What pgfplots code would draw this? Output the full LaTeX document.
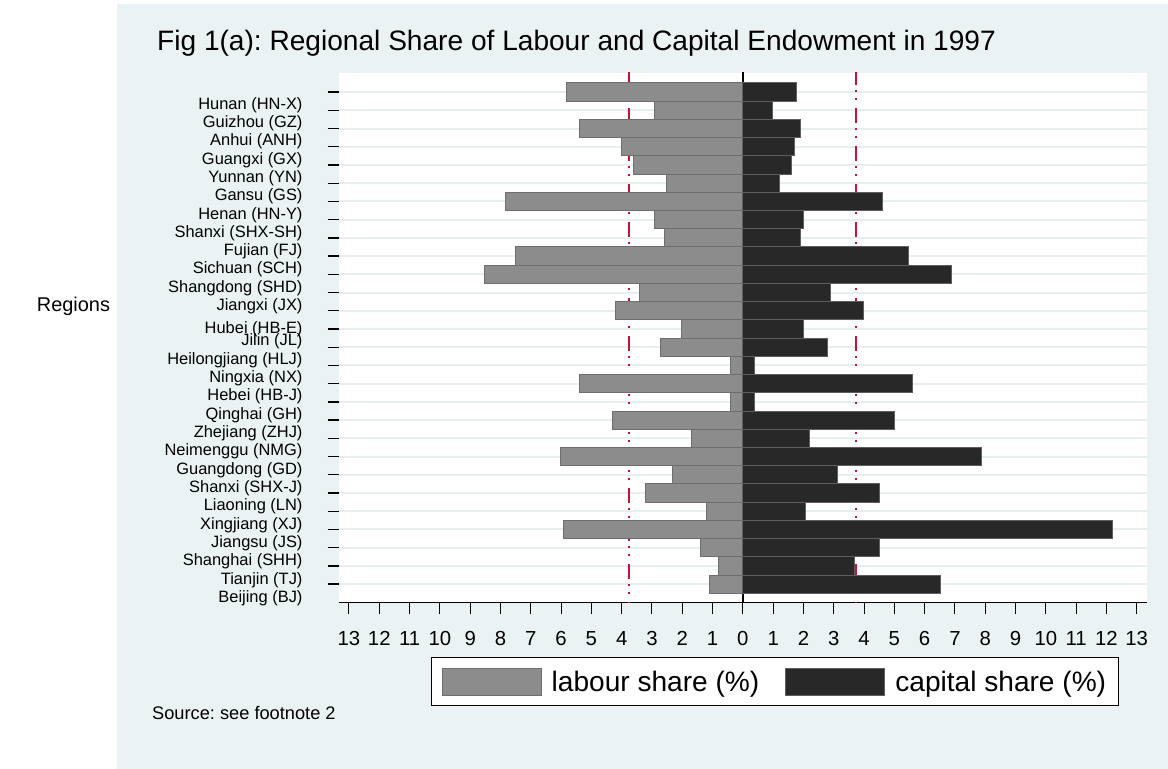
\documentclass[border=0pt]{standalone}
\usepackage{fontspec}
\setmainfont{Liberation Sans}
\usepackage{pgfplots}
\usepackage{pgfplotstable}
\pgfplotsset{compat=1.18}
\frenchspacing
\definecolor{bgcol}{HTML}{EAF2F3}
\definecolor{gridcol}{HTML}{E6EEF0}
\definecolor{labfill}{HTML}{8C8C8C}
\definecolor{labedge}{HTML}{6E6E6E}
\definecolor{capfill}{HTML}{282828}
\definecolor{capedge}{HTML}{5E5E5E}
\definecolor{refred}{RGB}{200,16,56}

\pgfplotstableread{
idx labour capital
1 -5.82 1.78
2 -2.91 0.99
3 -5.40 1.91
4 -4.01 1.70
5 -3.61 1.59
6 -2.52 1.21
7 -7.83 4.61
8 -2.91 2.00
9 -2.60 1.91
10 -7.50 5.48
11 -8.52 6.90
12 -3.42 2.90
13 -4.21 3.98
14 -2.02 1.99
15 -2.71 2.78
16 -0.40 0.38
17 -5.40 5.61
18 -0.40 0.38
19 -4.31 4.99
20 -1.71 2.20
21 -6.01 7.89
22 -2.31 3.11
23 -3.21 4.50
24 -1.21 2.08
25 -5.92 12.20
26 -1.40 4.50
27 -0.80 3.68
28 -1.11 6.51
}\datatable

\begin{document}
\begin{tikzpicture}
\path[use as bounding box] (0bp,0bp) rectangle (1168bp,769bp);
\fill[bgcol] (117bp,0bp) rectangle (1168bp,765bp);
\node[anchor=west, inner sep=0pt, font=\fontsize{28.2}{30}\selectfont] at (157bp,726bp) {Fig 1(a): Regional Share of Labour and Capital Endowment in 1997};
\node[anchor=west, inner sep=0pt, font=\fontsize{18.3}{20}\selectfont] at (152bp,56bp) {Source: see footnote 2};
\node[anchor=center, inner sep=0pt, font=\fontsize{20}{22}\selectfont] at (73.5bp,463bp) {Regions};
\begin{axis}[
  at={(339bp,167bp)}, anchor=south west,
  scale only axis, width=807.7bp, height=529.3bp,
  xmin=-13.33, xmax=13.33,
  ymin=-0.064, ymax=28.98,
  y dir=reverse,
  axis background/.style={fill=white},
  axis x line*=bottom, axis y line*=left,
  x axis line style={black, line width=1bp},
  y axis line style={draw=none},
  tick align=outside,
  major tick length=11.5bp,
  xtick={-13,-12,...,13},
  xticklabels={13,12,11,10,9,8,7,6,5,4,3,2,1,0,1,2,3,4,5,6,7,8,9,10,11,12,13},
  xticklabel style={font=\fontsize{20.4}{22}\selectfont, yshift=-14bp},
  x tick style={black, line width=1bp},
  ytick={1,2,...,28},
  yticklabels={},
  y tick style={black, line width=1.3bp},
  ymajorgrids,
  major grid style={draw=gridcol, line width=2bp},
  extra y ticks={1.708,2.712,3.722,4.726,5.730,6.739,7.743,8.748,9.730,10.707,11.765,12.775,13.999,14.696,15.700,16.704,17.713,18.718,19.722,20.731,21.735,22.740,23.749,24.753,25.757,26.767,27.771,28.775},
  extra y tick labels={Hunan (HN-X),Guizhou (GZ),Anhui (ANH),Guangxi (GX),Yunnan (YN),Gansu (GS),Henan (HN-Y),Shanxi (SHX-SH),Fujian (FJ),Sichuan (SCH),Shangdong (SHD),Jiangxi (JX),Hubei (HB-E),Jilin (JL),Heilongjiang (HLJ),Ningxia (NX),Hebei (HB-J),Qinghai (GH),Zhejiang (ZHJ),Neimenggu (NMG),Guangdong (GD),Shanxi (SHX-J),Liaoning (LN),Xingjiang (XJ),Jiangsu (JS),Shanghai (SHH),Tianjin (TJ),Beijing (BJ)},
  extra y tick style={grid=none, major tick length=0pt, tick style={draw=none},
    yticklabel style={font=\fontsize{16.5}{18}\selectfont, xshift=-33bp}},
  legend columns=2,
  legend style={at={(0.5397,-0.1506)}, anchor=center, draw=black, line width=1bp, fill=white,
    font=\fontsize{28.2}{30}\selectfont, inner xsep=10bp, inner ysep=10bp,
    /tikz/every odd column/.append style={column sep=8bp},
    /tikz/every even column/.append style={column sep=24bp}},
  legend image code/.code={\draw[#1, line width=1bp] (0bp,-13.5bp) rectangle (99bp,13.5bp);},
]
\addplot[black, line width=2bp, forget plot] coordinates {(0,-0.2) (0,29.2)};
\addplot[refred, line width=2bp, dash pattern=on 15bp off 5bp on 2bp off 6bp on 2bp off 8bp, forget plot] coordinates {(-3.75,-0.2) (-3.75,29.2)};
\addplot[refred, line width=2bp, dash pattern=on 15bp off 5bp on 2bp off 6bp on 2bp off 8bp, forget plot] coordinates {(3.75,-0.2) (3.75,29.2)};
\addplot[xbar, bar width=1, bar shift=0pt, fill=labfill, draw=labedge, line width=1bp] table[x=labour, y=idx] {\datatable};
\addplot[xbar, bar width=1, bar shift=0pt, fill=capfill, draw=capedge, line width=1bp] table[x=capital, y=idx] {\datatable};
\legend{labour share (\%), capital share (\%)\hspace{20bp}}
\end{axis}
\end{tikzpicture}
\end{document}
